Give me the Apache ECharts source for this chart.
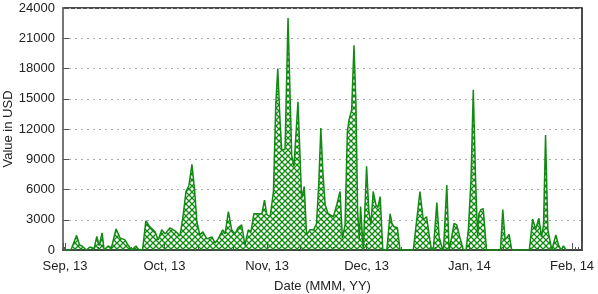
<!DOCTYPE html>
<html>
<head>
<meta charset="utf-8">
<script src="https://cdn.jsdelivr.net/npm/echarts@6/dist/echarts.min.js"></script>
<style>html,body{margin:0;padding:0;background:#fff}#c{width:598px;height:294px}</style>
</head>
<body>
<div id="c"></div>
<script>
// Days since 2013-09-01 (fractional) for each vertex of the series
const dayOffsets = [0,1.8,3.5,4.4,5.1,6.5,7.5,8.8,9.6,10.3,11.2,11.8,13.0,14.0,15.4,16.6,18.1,19.0,20.1,21.4,22.3,23.4,24.4,25.6,27.2,28.1,29.2,30.2,31.7,33.2,34.7,35.6,36.5,37.4,38.3,39.1,39.8,40.7,41.6,42.8,44.3,45.3,46.2,47.6,48.3,49.3,50.3,51.3,52.2,53.3,54.3,55.3,56.1,57.0,59.4,60.2,60.9,61.9,62.9,63.6,64.2,64.9,65.4,66.4,67.3,68.4,69.1,70.3,71.4,72.2,72.9,73.9,75.0,75.9,76.6,77.2,77.8,78.5,79.4,81.0,82.0,83.0,83.7,84.5,85.2,85.7,86.5,87.2,87.8,88.3,88.8,89.2,90.0,91.0,91.7,92.3,93.0,93.8,94.4,95.1,95.9,97.1,98.1,98.7,99.3,100.3,101.1,105.1,107.1,108.1,109.1,110.1,110.6,111.2,112.2,112.9,113.7,114.2,115.2,115.9,116.7,117.4,118.2,119.2,120.2,121.0,121.7,122.5,123.2,123.9,124.5,124.9,125.5,126.2,126.7,127.2,131.4,132.1,132.8,134.0,134.8,140.1,141.1,142.0,143.0,143.8,144.4,145.0,145.7,146.9,148.1,148.9,149.7,150.4,151.2];
const valuesUSD = [0,0,1450,500,400,0,300,150,1350,450,1700,0,400,200,2100,1200,1000,500,0,400,0,0,2900,2300,1800,1000,2000,1600,2200,1900,1400,3300,5800,6400,8500,6000,2800,1500,1800,1100,1300,700,1100,2000,1600,3800,2000,1600,2200,2500,500,2000,1800,3600,3600,4950,3500,3300,5800,14400,18000,12700,9900,10000,23000,9400,8300,14700,5100,6300,1500,2000,2000,2600,6800,12100,7800,4500,3600,3300,4500,5800,1150,2500,11700,12900,13900,20300,14400,3800,1100,4300,0,8300,3800,2500,5800,4500,4200,5300,0,0,3600,2600,2300,2200,0,0,5800,3000,3300,1000,0,300,4700,1300,300,0,6450,0,1300,2650,2500,1200,0,0,2000,6900,15900,6900,1300,3600,4000,4100,2000,0,0,4000,1000,1550,0,0,3070,2050,3140,1300,2500,11400,2000,0,1500,500,0,400,0];
const monthNames = ['Jan','Feb','Mar','Apr','May','Jun','Jul','Aug','Sep','Oct','Nov','Dec'];
const yTicks = [0,3000,6000,9000,12000,15000,18000,21000,24000];

const DAY = 86400000;
const base = Date.UTC(2013, 8, 1);
const seriesData = dayOffsets.map((d, i) => [base + d * DAY, valuesUSD[i]]);

// cross-hatch pattern
const s = 6;
const pc = document.createElement('canvas');
pc.width = s; pc.height = s;
const g = pc.getContext('2d');
g.strokeStyle = '#118a11';
g.lineWidth = 1.3;
g.beginPath();
g.moveTo(0, 0); g.lineTo(s, s);
g.moveTo(0, s); g.lineTo(s, 0);
g.stroke();

const chart = echarts.init(document.getElementById('c'), null, {renderer: 'canvas'});
const font = 'Liberation Sans, Arial, sans-serif';
chart.setOption({
  animation: false,
  useUTC: true,
  grid: {left: 63, right: 16, top: 8, bottom: 44, outerBoundsMode: 'none', containLabel: false, show: true, borderColor: '#111', borderWidth: 1.5, backgroundColor: 'transparent'},
  xAxis: {
    type: 'time',
    min: base - 0.6 * DAY,
    max: Date.UTC(2014, 1, 4),
    minInterval: 28 * DAY,
    name: 'Date (MMM, YY)',
    nameLocation: 'middle',
    nameGap: 30,
    nameMoveOverlap: false,
    nameTextStyle: {fontFamily: font, fontSize: 13, color: '#222'},
    axisLine: {lineStyle: {color: '#444', width: 2}},
    axisTick: {show: true, inside: true, length: 7, lineStyle: {color: '#555'}},
    minorTick: {show: true, splitNumber: 3, length: 3, lineStyle: {color: '#555'}},
    splitLine: {show: false},
    axisLabel: {
      fontFamily: font, fontSize: 13, color: '#222', margin: 10,
      formatter: function (v) { const d = new Date(v); return monthNames[d.getUTCMonth()] + ', ' + String(d.getUTCFullYear()).slice(2); }
    }
  },
  yAxis: {
    type: 'value',
    min: yTicks[0], max: yTicks[yTicks.length - 1], interval: 3000,
    name: 'Value in USD',
    nameLocation: 'middle',
    nameGap: 48,
    nameMoveOverlap: false,
    nameTextStyle: {fontFamily: font, fontSize: 13, color: '#222'},
    axisLine: {show: true, lineStyle: {color: '#777', width: 2}},
    axisTick: {show: true, inside: true, length: 6, lineStyle: {color: '#555'}},
    splitLine: {show: true, lineStyle: {color: '#aaa', type: [2, 4], width: 1}},
    axisLabel: {fontFamily: font, fontSize: 13, color: '#222', margin: 8, formatter: function (v) { return String(v); }}
  },
  series: [{
    type: 'line',
    data: seriesData,
    showSymbol: false,
    lineStyle: {color: '#138a13', width: 1.5},
    areaStyle: {color: {image: pc, repeat: 'repeat'}, opacity: 1},
    z: 3
  }]
});
</script>
</body>
</html>
